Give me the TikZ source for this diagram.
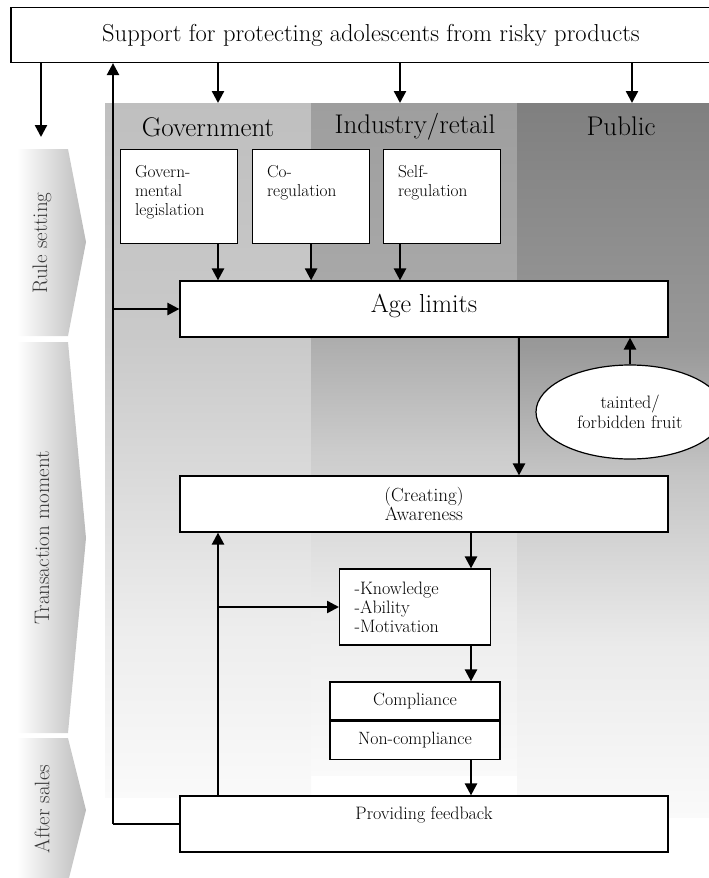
\documentclass[tikz,border=0pt]{standalone}
\usepackage{fontspec}
\usepackage{tikz}
\usetikzlibrary{arrows.meta,shapes}

% column backgrounds, dark at the top, fading out downwards
\pgfdeclareverticalshading{govshade}{100bp}{rgb(0bp)=(0.98,0.98,0.98); rgb(25bp)=(0.98,0.98,0.98); rgb(37bp)=(0.93,0.93,0.93); rgb(49bp)=(0.85,0.85,0.85); rgb(58bp)=(0.79,0.79,0.79); rgb(75bp)=(0.75,0.75,0.75); rgb(100bp)=(0.75,0.75,0.75)}
\pgfdeclareverticalshading{indshade}{100bp}{rgb(0bp)=(0.98,0.98,0.98); rgb(25bp)=(0.98,0.98,0.98); rgb(37bp)=(0.925,0.925,0.925); rgb(49bp)=(0.80,0.80,0.80); rgb(58bp)=(0.67,0.67,0.67); rgb(75bp)=(0.62,0.62,0.62); rgb(100bp)=(0.62,0.62,0.62)}
\pgfdeclareverticalshading{pubshade}{100bp}{rgb(0bp)=(0.98,0.98,0.98); rgb(25bp)=(0.98,0.98,0.98); rgb(37bp)=(0.92,0.92,0.92); rgb(49bp)=(0.77,0.77,0.77); rgb(58bp)=(0.60,0.60,0.60); rgb(75bp)=(0.50,0.50,0.50); rgb(100bp)=(0.50,0.50,0.50)}

\newcommand{\boxtext}[1]{\parbox[c][62pt][t]{88pt}{\raggedright #1}}

\begin{document}
\begin{tikzpicture}[x=1pt,y=-1pt,
    box/.style={draw, fill=white, line width=1.2pt, minimum width=488pt, minimum height=56pt, inner sep=0pt},
    smallbox/.style={draw, fill=white, line width=1.2pt, anchor=north west, inner xsep=14.5pt, inner ysep=16pt, font=\fontsize{17.3}{19}\selectfont},
    splitbox/.style={draw, fill=white, line width=1.2pt, minimum width=170pt, minimum height=38pt, inner sep=0pt, font=\fontsize{17.8}{20}\selectfont},
    colhead/.style={font=\fontsize{27}{31}\selectfont},
    phase/.style={rotate=90, font=\fontsize{21}{25}\selectfont, text=black!78},
    arr/.style={line width=2.4pt, -{Triangle[length=12pt,width=12pt]}},
    thinline/.style={line width=1.3pt}]
    \useasboundingbox (0,0) rectangle (709,878);
    \clip (0,0) rectangle (709,878);

    % Column backgrounds
    \shade[shading=govshade] (105,103) rectangle (311,797);
    \shade[shading=indshade] (311,103) rectangle (517,775);
    \shade[shading=pubshade] (517,103) rectangle (731,817);

    % Phase arrows on the left
    \shade[left color=white, right color=black!27] (17,149) -- (68,149) -- (86,242) -- (68,336) -- (17,336) -- cycle;
    \shade[left color=white, right color=black!27] (17,342) -- (68,342) -- (86,538) -- (68,733) -- (17,733) -- cycle;
    \shade[left color=white, right color=black!27] (17,738) -- (68,738) -- (86,810) -- (68,882) -- (17,882) -- cycle;
    \node[phase] (rulelbl) at (42,243) {Rule setting};
    \node[phase] (translbl) at (42,538) {Transaction moment};
    \node[phase] (afterlbl) at (42,809) {After sales};

    % Top box and column heads
    \node[draw, fill=white, line width=1.2pt, minimum width=720pt, minimum height=55pt, font=\fontsize{24.5}{28}\selectfont] (support) at (371,35) {Support for protecting adolescents from risky products};
    \node[colhead] (govhead) at (208,127) {Government};
    \node[colhead] (indhead) at (415,127) {Industry/retail};
    \node[colhead] (pubhead) at (621,126) {Public};

    % Helper points
    \coordinate (phasetop) at (41,137);
    \coordinate (loopcorner) at (113,824);
    \coordinate (govtop) at (218,103);
    \coordinate (indtop) at (400,103);
    \coordinate (pubtop) at (632,103);
    \coordinate (ageout) at (519,0);
    \coordinate (flowx) at (471,0);

    % Rule setting
    \node[smallbox] (govleg) at (120,149) {\boxtext{Govern-\\mental\\legislation}};
    \node[smallbox] (coreg) at (252,149) {\boxtext{Co-\\regulation}};
    \node[smallbox] (selfreg) at (383,149) {\boxtext{Self-\\regulation}};
    \node[box, font=\fontsize{26}{30}\selectfont] (agelimits) at (424,309) {\raisebox{3pt}[\height][\depth]{Age limits}};

    % Transaction moment
    \node[draw, fill=white, ellipse, line width=1.2pt, minimum width=188pt, minimum height=94pt, inner sep=0pt, align=center, font=\fontsize{18}{19.5}\selectfont] (fruit) at (630,412) {tainted/\\forbidden fruit};
    \node[box, align=center, font=\fontsize{19}{19}\selectfont] (awareness) at (424,504) {(Creating)\\Awareness};
    \node[draw, fill=white, line width=1.2pt, anchor=west, text width=121pt, inner xsep=15pt, minimum height=76pt, align=left, font=\fontsize{18}{19}\selectfont] (knowledge) at (339,607) {-Knowledge\\-Ability\\-Motivation};
    \node[splitbox] (comply) at (415,701) {Compliance};
    \node[splitbox, anchor=north] (noncomply) at (comply.south) {Non-compliance};

    % After sales
    \node[box, font=\fontsize{18}{20}\selectfont] (feedback) at (424,824) {\raisebox{9pt}[\height][\depth]{Providing feedback}};

    % Arrows from the top
    \draw[arr] (support.south -| phasetop) -- (phasetop);
    \draw[arr] (support.south -| govtop) -- (govtop);
    \draw[arr] (support.south -| indtop) -- (indtop);
    \draw[arr] (support.south -| pubtop) -- (pubtop);

    % Into the age limits
    \draw[arr] (govleg.south -| govtop) -- (agelimits.north -| govtop);
    \draw[arr] (coreg.south) -- (agelimits.north -| coreg.south);
    \draw[arr] (selfreg.south -| indtop) -- (agelimits.north -| indtop);
    \draw[arr] (agelimits.west -| loopcorner) -- (agelimits.west);
    \draw[arr] (fruit.north) -- (fruit.north |- agelimits.south);

    % Down the main flow
    \draw[arr] (agelimits.south -| ageout) -- (awareness.north -| ageout);
    \draw[arr] (awareness.south -| flowx) -- (knowledge.north -| flowx);
    \draw[arr] (knowledge.south -| flowx) -- (comply.north -| flowx);
    \draw[arr] (noncomply.south -| flowx) -- (feedback.north -| flowx);

    % Feedback loops
    \draw[arr] (feedback.north -| govtop) -- (awareness.south -| govtop);
    \draw[arr] (knowledge.west -| govtop) -- (knowledge.west);
    \draw[thinline] (feedback.west) -- (loopcorner);
    \draw[arr] (loopcorner) -- (support.south -| loopcorner);
\end{tikzpicture}
\end{document}
